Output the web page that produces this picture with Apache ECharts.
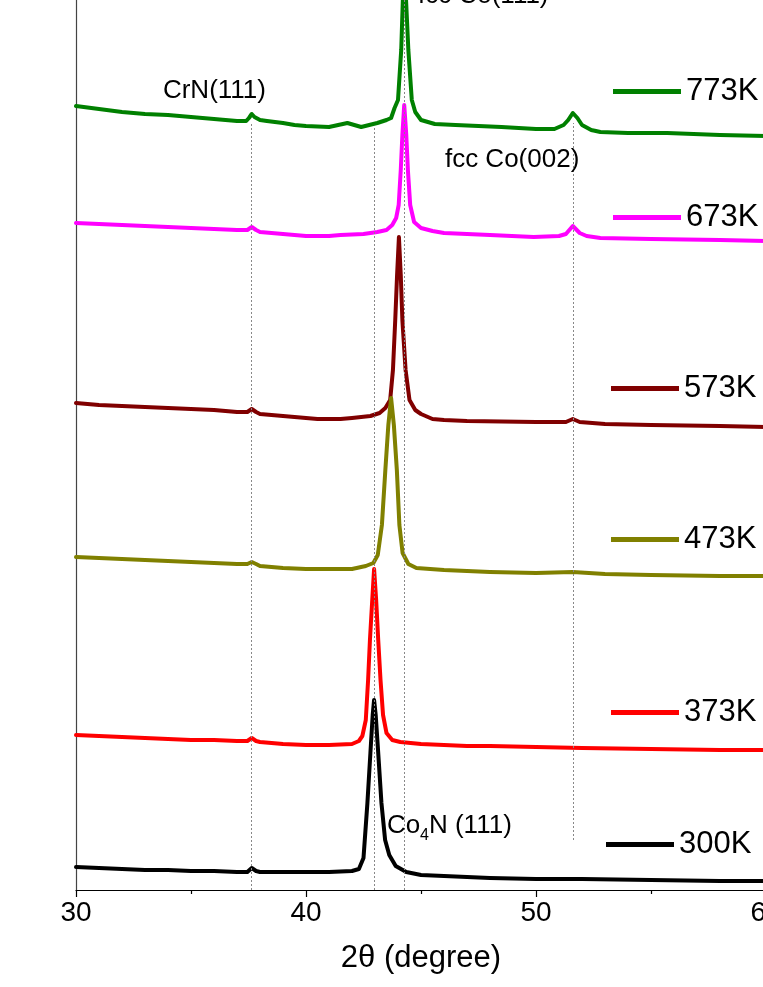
<!DOCTYPE html>
<html>
<head>
<meta charset="utf-8">
<script src="https://cdn.jsdelivr.net/npm/echarts@6/dist/echarts.min.js"></script>
<style>
html, body { margin: 0; padding: 0; overflow: hidden; background: #fff; width: 763px; height: 987px; }
#chart { position: absolute; left: 0; top: -40px; width: 800px; height: 1040px; }
</style>
</head>
<body>
<div id="chart"></div>
<script>
// XRD patterns, 2theta (degree) vs intensity (a.u., offset per temperature)
const names = ['773K', '673K', '573K', '473K', '373K', '300K'];
const colors = ['#008000', '#ff00ff', '#800000', '#808000', '#ff0000', '#000000'];

const k773 = [[30,784],[31,781],[32,778],[33,776],[34,775],[35,773],[36,771],[37,769],[37.4,769],[37.52,772],[37.64,776],[37.76,773],[38,770],[38.3,769],[39,767],[39.5,765],[40,764],[41,763],[41.8,767],[42.4,763],[43.1,767],[43.5,770],[43.7,772],[43.85,782],[44,790],[44.14,840],[44.21,890],[44.27,950],[44.35,890],[44.45,840],[44.6,790],[44.75,778],[45,770],[45.3,768],[45.6,766],[46.5,765],[48.5,763],[50,761],[50.8,761],[51.2,765],[51.4,770],[51.6,777],[51.8,772],[52,765],[52.4,760],[52.8,758],[54,757],[55.7,757],[58,755],[60,754]];
const k673 = [[30,667],[31,666],[32,665],[33,664],[34,663],[35,662],[36,661],[37,660],[37.45,660],[37.64,663],[37.83,660],[38,658],[39,656],[40,654],[41,654],[41.5,655],[42.5,656],[43.1,658],[43.5,660],[43.75,665],[43.92,672],[44.03,685],[44.12,720],[44.19,755],[44.27,785],[44.36,755],[44.43,720],[44.53,685],[44.7,668],[45,662],[45.5,659],[46,657],[47,656],[48,655],[49.9,653],[51,654],[51.3,656],[51.6,664],[51.9,657],[52.2,654],[52.8,652],[55,651],[58,650],[60,649]];
const k573 = [[30,487],[31,485],[32,484],[33,483],[34,482],[35,481],[36,480],[37,478],[37.45,478],[37.64,481],[37.83,478],[38,476],[39,474],[40,472],[40.5,471],[41.5,471],[42,472],[42.8,474],[43.2,477],[43.45,482],[43.66,490],[43.78,520],[43.88,570],[43.96,615],[44.04,653],[44.12,615],[44.19,570],[44.33,520],[44.5,490],[44.75,480],[45,476],[45.5,471],[46,470],[47,469],[50,468],[51.3,468],[51.6,471],[51.9,468],[53,466],[55,465],[58,464],[60,463]];
const k473 = [[30,333],[31,332],[32,331],[33,330],[34,329],[35,328],[36,327],[37,326],[37.45,326],[37.64,328],[37.83,326],[38,324],[39,322],[40,321],[41,321],[42,321],[42.6,324],[42.93,327],[43.12,335],[43.3,365],[43.45,420],[43.58,465],[43.7,492],[43.82,465],[43.95,420],[44.06,365],[44.2,337],[44.45,326],[44.8,322],[46,320],[48,318],[50,317],[51.6,318],[53,316],[55,315],[58,314],[60,314]];
const k373 = [[30,155],[31,154],[32,153],[33,152],[34,151],[35,150],[36,150],[37,149],[37.45,149],[37.64,152],[37.83,149],[38,148],[39,146],[40,145],[41,145],[42,146],[42.3,149],[42.45,154],[42.6,170],[42.7,210],[42.78,250],[42.88,290],[42.96,321],[43.05,290],[43.14,250],[43.24,210],[43.35,175],[43.5,157],[43.75,150],[44.1,148],[45,146],[46,145],[47,144],[48,144],[50,143],[52,142],[55,141],[58,140],[60,140]];
const k300 = [[30,23],[31,22],[32,21],[33,20],[34,20],[35,19],[36,19],[37,18],[37.45,18],[37.64,22],[37.83,19],[38,18],[39,18],[39.74,18],[41,18],[42,19],[42.3,21],[42.5,32],[42.67,87],[42.8,137],[42.9,175],[42.96,190],[43.03,175],[43.14,137],[43.28,87],[43.44,50],[43.62,35],[43.9,24],[44.36,18],[45,15],[46,14],[47,13],[48,12],[50,11],[52,11],[55,10],[58,9],[60,9]];
const seriesData = [k773, k673, k573, k473, k373, k300];

// dotted guide lines: [2theta, from, to]
const refLines = [[37.64, 0, 767], [42.97, 0, 762], [44.27, 0, 930], [51.6, 50, 767]];

// peak labels: text, 2theta, intensity at text middle
const annoText = ['CrN(111)', 'fcc Co(111)', 'fcc Co(002)'];
const annoX = [33.78, 44.87, 46.04];
const annoY = [799, 894, 730];
const co4nAt = [43.52, 64];

// legend placement (page px)
const legendLeft = [613, 613, 611, 611, 611, 606];
const legendMid = [92, 218, 389, 540, 713, 845];

const FONT = "'Liberation Sans', Arial, sans-serif";
const OFFSET = 40; // chart div is shifted up by this

const myChart = echarts.init(document.getElementById('chart'));

const option = {
    backgroundColor: '#fff',
    animation: false,
    grid: { left: 76, right: 34, top: 0, bottom: 110 },
    legend: names.map((n, i) => ({
        data: [n],
        left: legendLeft[i],
        top: legendMid[i] + OFFSET - 16,
        icon: 'rect',
        itemWidth: 68,
        itemHeight: 5,
        padding: 0,
        selectedMode: false,
        textStyle: { fontSize: 31, color: '#000', fontFamily: FONT }
    })),
    xAxis: {
        type: 'value',
        min: 30,
        max: 60,
        interval: 10,
        name: '2θ (degree)',
        nameLocation: 'middle',
        nameGap: 53,
        nameTextStyle: { fontSize: 31, color: '#000', fontFamily: FONT },
        axisLine: { lineStyle: { color: '#000', width: 1.2 } },
        axisTick: { inside: false, length: 7, lineStyle: { color: '#000', width: 1.2 } },
        minorTick: { show: true, splitNumber: 2, length: 4, lineStyle: { color: '#000', width: 1.2 } },
        splitLine: { show: false },
        axisLabel: { fontSize: 28, color: '#000', fontFamily: FONT, margin: 9 }
    },
    yAxis: {
        type: 'value',
        min: 0,
        max: 930,
        axisLine: { show: true, lineStyle: { color: '#444', width: 1.2 } },
        axisTick: { show: false },
        axisLabel: { show: false },
        splitLine: { show: false }
    },
    series: names.map((n, i) => {
        const s = {
            name: n,
            type: 'line',
            data: seriesData[i],
            symbol: 'none',
            smooth: false,
            lineStyle: { color: colors[i], width: 4, join: 'round', cap: 'round' },
            itemStyle: { color: colors[i] }
        };
        if (i === 0) {
            s.markLine = {
                silent: true,
                symbol: ['none', 'none'],
                label: { show: false },
                lineStyle: { color: '#888', width: 1, type: [2, 2] },
                data: refLines.map(r => [{ coord: [r[0], r[1]] }, { coord: [r[0], r[2]] }])
            };
        }
        return s;
    })
};

myChart.setOption(option);

// place peak labels from data coordinates
const graphics = annoText.map((t, i) => {
    const p = myChart.convertToPixel({ gridIndex: 0 }, [annoX[i], annoY[i]]);
    return {
        type: 'text', x: p[0], y: p[1], z: 100,
        style: { text: t, fontSize: 26, fontFamily: FONT, fill: '#000', verticalAlign: 'middle' }
    };
});
const c = myChart.convertToPixel({ gridIndex: 0 }, co4nAt);
graphics.push(
    { type: 'text', x: c[0], y: c[1], z: 100, style: { text: 'Co', fontSize: 26, fontFamily: FONT, fill: '#000', verticalAlign: 'middle' } },
    { type: 'text', x: c[0] + 33, y: c[1] + 10, z: 100, style: { text: '4', fontSize: 16, fontFamily: FONT, fill: '#000', verticalAlign: 'middle' } },
    { type: 'text', x: c[0] + 42, y: c[1], z: 100, style: { text: 'N (111)', fontSize: 26, fontFamily: FONT, fill: '#000', verticalAlign: 'middle' } }
);
myChart.setOption({ graphic: graphics });
</script>
</body>
</html>
